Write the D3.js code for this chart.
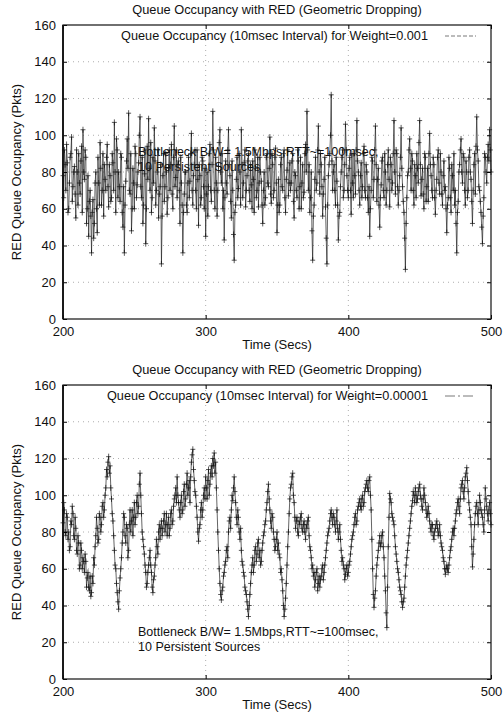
<!DOCTYPE html>
<html>
<head>
<meta charset="utf-8">
<script src="https://cdn.jsdelivr.net/npm/d3@7"></script>
<style>
  body { margin: 0; background: #fff; }
  text { font-family: "Liberation Sans", Arial, sans-serif; fill: #111; }
</style>
</head>
<body>
<div id="chart"></div>
<script>

// samples: one at each whole second (200..500)
// and one in between each (200.5..499.5)
var startTime = 200;
var xTicks = [200, 300, 400, 500];
var yTicks = [0, 20, 40, 60, 80, 100, 120, 140, 160];

var titleText = "Queue Occupancy with RED (Geometric Dropping)";
var xLabel = "Time (Secs)";
var yLabel = "RED Queue Occupancy (Pkts)";
var noteLines = ["Bottleneck B/W= 1.5Mbps,RTT~=100msec,", "10 Persistent Sources"];

var legendTop = "Queue Occupancy (10msec Interval) for Weight=0.001";
var legendBottom = "Queue Occupancy (10msec Interval) for Weight=0.00001";

var queueW001 = [
  78, 92, 70, 85, 60, 88, 99, 72, 83, 55,
  80, 90, 68, 94, 103, 76, 88, 60, 45, 70,
  36, 65, 52, 80, 47, 74, 96, 62, 90, 84,
  70, 95, 61, 78, 66, 85, 107, 58, 92, 80,
  64, 88, 50, 36, 75, 98, 112, 68, 48, 82,
  60, 90, 73, 85, 110, 66, 52, 79, 41, 94,
  109, 70, 58, 88, 104, 62, 80, 55, 72, 30,
  78, 64, 90, 57, 82, 70, 95, 60, 105, 77,
  66, 86, 52, 74, 36, 68, 80, 58, 88, 75,
  101, 62, 84, 70, 92, 51, 78, 66, 86, 60,
  45, 80, 72, 95, 64, 113, 70, 88, 56, 83,
  103, 74, 60, 43, 86, 68, 103, 78, 55, 70,
  32, 62, 88, 71, 80, 103, 66, 85, 61, 78,
  90, 64, 73, 86, 58, 82, 70, 61, 88, 75,
  52, 80, 66, 90, 72, 99, 63, 84, 70, 93,
  47, 76, 62, 88, 70, 92, 58, 81, 67, 85,
  74, 90, 55, 78, 66, 86, 72, 60, 84, 69,
  95, 113, 70, 58, 80, 32, 62, 88, 74, 105,
  68, 84, 56, 76, 61, 30, 78, 90, 122, 70,
  84, 62, 75, 43, 58, 80, 92, 70, 106, 78,
  66, 88, 57, 74, 90, 68, 108, 80, 62, 85,
  72, 94, 66, 80, 58, 45, 70, 86, 76, 105,
  64, 82, 50, 73, 88, 66, 80, 70, 92, 61,
  84, 74, 108, 68, 90, 62, 78, 104, 72, 58,
  27, 66, 80, 98, 70, 86, 62, 78, 90, 74,
  108, 67, 82, 60, 88, 72, 64, 101, 78, 66,
  84, 57, 76, 92, 68, 80, 62, 86, 72, 47,
  66, 82, 58, 78, 90, 70, 36, 64, 84, 98,
  74, 88, 62, 80, 70, 92, 76, 52, 84, 68,
  110, 86, 70, 58, 41, 66, 88, 74, 95, 103,
  80
];

var queueW001Half = [
  66, 84, 95, 58, 74, 90, 64, 80, 68, 92,
  62, 74, 86, 58, 80, 92, 52, 78, 64, 56,
  58, 44, 74, 60, 88, 62, 82, 70, 56, 76,
  88, 72, 84, 64, 90, 70, 80, 98, 66, 72,
  90, 58, 72, 62, 86, 82, 70, 90, 60, 74,
  94, 66, 80, 100, 72, 88, 62, 92, 60, 76,
  82, 96, 66, 74, 86, 70, 92, 68, 84, 56,
  90, 72, 80, 66, 92, 84, 68, 88, 72, 92,
  84, 70, 88, 62, 58, 80, 62, 74, 66, 90,
  70, 78, 92, 60, 76, 84, 62, 88, 72, 82,
  68, 56, 90, 70, 84, 92, 60, 74, 70, 96,
  80, 90, 70, 66, 74, 92, 84, 64, 86, 46,
  58, 76, 66, 90, 62, 84, 74, 92, 70, 86,
  70, 84, 60, 76, 92, 66, 88, 74, 80, 62,
  70, 62, 88, 74, 82, 68, 90, 66, 88, 74,
  62, 58, 84, 72, 90, 66, 76, 92, 74, 70,
  86, 64, 80, 70, 92, 60, 88, 74, 66, 90,
  80, 92, 84, 66, 48, 56, 76, 70, 92, 80,
  90, 72, 68, 88, 44, 62, 84, 100, 86, 80,
  70, 88, 62, 56, 72, 88, 66, 84, 92, 70,
  82, 70, 90, 66, 78, 92, 86, 70, 78, 66,
  90, 70, 84, 66, 72, 60, 88, 66, 92, 84,
  76, 62, 66, 86, 70, 90, 62, 84, 76, 88,
  70, 90, 80, 92, 72, 70, 88, 82, 64, 44,
  52, 78, 92, 82, 90, 70, 84, 66, 82, 96,
  84, 76, 68, 90, 64, 82, 90, 84, 70, 88,
  66, 70, 88, 74, 90, 68, 78, 70, 60, 62,
  88, 66, 84, 70, 62, 52, 58, 80, 92, 80,
  90, 70, 86, 66, 88, 80, 64, 70, 90, 94,
  92, 72, 64, 50, 56, 90, 80, 88, 86, 92
];

var queueW00001 = [
  85, 92, 78, 88, 80, 72, 84, 90, 76, 82,
  68, 74, 62, 70, 66, 58, 64, 55, 50, 56,
  47, 52, 62, 78, 82, 76, 88, 84, 96, 92,
  104, 110, 121, 116, 98, 86, 70, 60, 47, 38,
  55, 66, 80, 88, 74, 82, 70, 92, 86, 78,
  96, 88, 100, 94, 112, 90, 76, 68, 58, 52,
  62, 70, 58, 47, 56, 66, 72, 80, 76, 86,
  82, 90, 84, 78, 88, 82, 92, 86, 98, 104,
  110, 96, 88, 100, 92, 106, 98, 112, 104, 96,
  118, 125, 108, 100, 88, 75, 84, 96, 92, 104,
  110, 98, 114, 106, 116, 120, 123, 118, 92, 70,
  52, 43, 50, 58, 64, 72, 80, 88, 92, 97,
  110, 96, 84, 88, 76, 70, 62, 56, 48, 42,
  34, 46, 58, 66, 62, 72, 68, 76, 70, 64,
  74, 80, 86, 96, 106, 92, 82, 88, 76, 72,
  80, 74, 66, 60, 48, 34, 44, 62, 80, 98,
  106, 112, 96, 82, 88, 78, 84, 90, 80, 86,
  76, 82, 88, 72, 66, 62, 58, 54, 60, 52,
  50, 56, 62, 58, 66, 74, 80, 86, 92, 84,
  88, 80, 92, 76, 84, 70, 66, 60, 57, 62,
  58, 64, 72, 78, 84, 90, 86, 94, 98, 92,
  100, 96, 104, 108, 102, 110, 92, 60, 39, 48,
  62, 70, 78, 74, 80, 66, 48, 28, 72, 101,
  96, 88, 84, 72, 64, 58, 50, 46, 39, 44,
  56, 66, 74, 82, 90, 97, 100, 104, 96, 102,
  106, 98, 92, 104, 96, 88, 94, 86, 80, 84,
  76, 82, 86, 78, 84, 74, 70, 64, 57, 62,
  58, 66, 72, 80, 78, 86, 92, 98, 90, 104,
  108, 98, 110, 115, 102, 92, 84, 61, 76, 90,
  96, 84, 100, 92, 88, 80, 104, 94, 86, 96,
  84
];

var queueW00001Half = [
  96, 80, 90, 76, 70, 86, 94, 78, 88, 70,
  78, 60, 74, 60, 64, 68, 50, 58, 48, 45,
  56, 66, 72, 88, 74, 90, 80, 94, 88, 100,
  114, 118, 112, 104, 90, 78, 62, 52, 42, 48,
  60, 74, 90, 78, 84, 66, 84, 80, 92, 88,
  84, 96, 90, 106, 100, 80, 72, 62, 50, 58,
  66, 62, 50, 54, 62, 76, 68, 84, 82, 78,
  86, 80, 90, 84, 78, 90, 84, 94, 100, 96,
  100, 92, 96, 90, 102, 94, 106, 100, 108, 110,
  122, 114, 102, 94, 80, 82, 92, 88, 100, 98,
  104, 108, 100, 112, 110, 116, 112, 104, 80, 60,
  46, 48, 56, 62, 70, 66, 86, 82, 100, 104,
  102, 88, 92, 80, 82, 64, 58, 50, 46, 38,
  40, 52, 62, 58, 70, 64, 74, 66, 62, 70,
  78, 84, 92, 102, 98, 86, 90, 80, 70, 76,
  70, 68, 58, 54, 40, 38, 52, 72, 90, 104,
  110, 100, 88, 86, 80, 86, 88, 82, 84, 80,
  84, 86, 78, 70, 60, 56, 50, 58, 48, 56,
  54, 60, 54, 62, 70, 78, 82, 90, 88, 90,
  84, 86, 82, 80, 76, 64, 62, 54, 60, 56,
  62, 68, 76, 80, 88, 84, 92, 96, 94, 98,
  94, 102, 106, 104, 108, 100, 76, 46, 44, 56,
  66, 74, 72, 78, 72, 56, 36, 50, 88, 98,
  90, 86, 78, 68, 60, 54, 48, 42, 42, 50,
  62, 70, 78, 86, 94, 102, 96, 100, 98, 104,
  100, 94, 98, 100, 92, 90, 90, 82, 84, 78,
  80, 84, 82, 80, 78, 72, 66, 60, 60, 60,
  62, 70, 76, 82, 82, 90, 96, 94, 98, 106,
  102, 104, 112, 108, 96, 88, 72, 68, 84, 94,
  90, 92, 96, 90, 84, 92, 98, 90, 92, 90
];

var W = 503, H = 715;
var left = 63, right = 491;

var svg = d3.select("#chart").append("svg")
    .attr("width", W)
    .attr("height", H);

function toPoints(whole, half) {
  var pts = [];
  whole.forEach(function(v, i) {
    pts.push({t: startTime + i, v: v});
    if (i < half.length) pts.push({t: startTime + i + 0.5, v: half[i]});
  });
  return pts;
}

function drawPanel(top, bottom, pts, legendText, legendDash, noteY) {
  var x = d3.scaleLinear().domain([200, 500]).range([left, right]);
  var y = d3.scaleLinear().domain([0, 160]).range([bottom, top]);
  var g = svg.append("g");

  // dotted grid
  g.selectAll(".gy")
      .data(yTicks.slice(1, -1))
    .enter().append("line")
      .attr("x1", left).attr("x2", right)
      .attr("y1", function(d) { return y(d); })
      .attr("y2", function(d) { return y(d); })
      .style("stroke", "#999")
      .style("stroke-width", 0.8)
      .style("stroke-dasharray", "1,4");
  g.selectAll(".gx")
      .data(xTicks.slice(1, -1))
    .enter().append("line")
      .attr("x1", function(d) { return x(d); })
      .attr("x2", function(d) { return x(d); })
      .attr("y1", top).attr("y2", bottom)
      .style("stroke", "#999")
      .style("stroke-width", 0.8)
      .style("stroke-dasharray", "1,4");

  var line = d3.line()
      .x(function(d) { return x(d.t); })
      .y(function(d) { return y(d.v); });

  g.append("path")
      .datum(pts)
      .attr("d", line)
      .style("fill", "none")
      .style("stroke", "#222")
      .style("stroke-width", 0.7);

  g.selectAll(".pt")
      .data(pts)
    .enter().append("path")
      .attr("d", function(d) {
        var cx = x(d.t), cy = y(d.v);
        return "M" + (cx - 2.5) + "," + cy + "H" + (cx + 2.5) +
               "M" + cx + "," + (cy - 3) + "V" + (cy + 3);
      })
      .style("stroke", "#111")
      .style("stroke-width", 0.7);

  // axes (ticks inward, labels outside)
  g.append("g")
      .attr("transform", "translate(0," + bottom + ")")
      .call(d3.axisBottom(x).tickValues(xTicks).tickSize(-4).tickPadding(8))
      .call(function(a) { a.select(".domain").remove(); });
  g.append("g")
      .attr("transform", "translate(" + left + ",0)")
      .call(d3.axisLeft(y).tickValues(yTicks).tickSize(-4).tickPadding(7))
      .call(function(a) { a.select(".domain").remove(); });
  g.append("g")
      .attr("transform", "translate(0," + top + ")")
      .call(d3.axisTop(x).tickValues(xTicks).tickSize(-4).tickFormat(""))
      .call(function(a) { a.select(".domain").remove(); });
  g.append("g")
      .attr("transform", "translate(" + right + ",0)")
      .call(d3.axisRight(y).tickValues(yTicks).tickSize(-4).tickFormat(""))
      .call(function(a) { a.select(".domain").remove(); });
  g.selectAll(".tick text")
      .style("font-size", "13px")
      .style("font-family", "Liberation Sans, Arial, sans-serif")
      .style("fill", "#111");

  g.append("rect")
      .attr("x", left).attr("y", top)
      .attr("width", right - left).attr("height", bottom - top)
      .style("fill", "none")
      .style("stroke", "#111")
      .style("stroke-width", 1.2);
  g.append("line")
      .attr("x1", left).attr("x2", left)
      .attr("y1", top).attr("y2", bottom)
      .style("stroke", "#111")
      .style("stroke-width", 1.8);

  // title
  g.append("text")
      .attr("x", 277).attr("y", top - 11)
      .style("text-anchor", "middle")
      .style("font-size", "12.8px")
      .text(titleText);

  // legend
  g.append("text")
      .attr("x", 428).attr("y", top + 15)
      .style("text-anchor", "end")
      .style("font-size", "12.7px")
      .text(legendText);
  g.append("line")
      .attr("x1", 445).attr("x2", 476)
      .attr("y1", top + 11).attr("y2", top + 11)
      .style("stroke", "#555")
      .style("stroke-width", 0.8)
      .style("stroke-dasharray", legendDash);

  // note
  g.selectAll(".note")
      .data(noteLines)
    .enter().append("text")
      .attr("x", 138)
      .attr("y", function(d, i) { return noteY + i * 14.5; })
      .style("font-size", "12.5px")
      .text(function(d) { return d; });

  // axis titles
  g.append("text")
      .attr("x", 277).attr("y", bottom + 30)
      .style("text-anchor", "middle")
      .style("font-size", "13px")
      .text(xLabel);
  g.append("text")
      .attr("transform", "translate(21," + ((top + bottom) / 2) + ") rotate(-90)")
      .style("text-anchor", "middle")
      .style("font-size", "13px")
      .text(yLabel);
}

drawPanel(25, 319, toPoints(queueW001, queueW001Half), legendTop, "4,2", 156);
drawPanel(385, 679, toPoints(queueW00001, queueW00001Half), legendBottom, "10,3,2,3", 636);

</script>
</body>
</html>
